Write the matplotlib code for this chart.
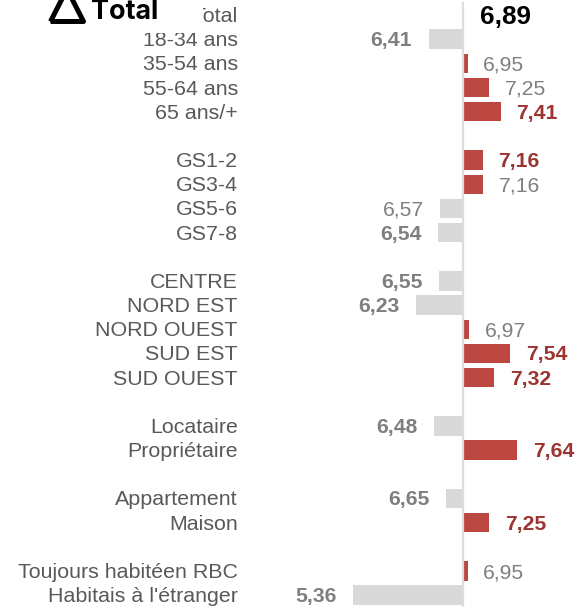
import matplotlib
matplotlib.use("Agg")
import matplotlib.pyplot as plt
from matplotlib.patches import Polygon, Rectangle

plt.rcParams['font.family'] = ['Liberation Sans', 'DejaVu Sans']

# une ligne vide = None
categories = ["Total", "18-34 ans", "35-54 ans", "55-64 ans", "65 ans/+", None,
              "GS1-2", "GS3-4", "GS5-6", "GS7-8", None,
              "CENTRE", "NORD EST", "NORD OUEST", "SUD EST", "SUD OUEST", None,
              "Locataire", "Propriétaire", None,
              "Appartement", "Maison", None,
              "Toujours habitéen RBC", "Habitais à l'étranger"]
valeurs = [6.89, 6.41, 6.95, 7.25, 7.41, None,
           7.16, 7.16, 6.57, 6.54, None,
           6.55, 6.23, 6.97, 7.54, 7.32, None,
           6.48, 7.64, None,
           6.65, 7.25, None,
           6.95, 5.36]
# valeurs en gras
gras = ["18-34 ans", "65 ans/+", "GS1-2", "GS7-8", "CENTRE", "NORD EST",
        "SUD EST", "SUD OUEST", "Locataire", "Propriétaire", "Appartement",
        "Maison", "Habitais à l'étranger"]
reference = 6.89

W, H = 581, 607
fig = plt.figure(figsize=(W / 100, H / 100), dpi=100)
ax = fig.add_axes([0, 0, 1, 1])
px = 72.0  # pixels par unite
ax.set_xlim(reference - 463.4 / px, reference + (W - 463.4) / px)
ax.set_ylim(24.49, -0.62)
ax.axis('off')

for i, (cat, val) in enumerate(zip(categories, valeurs)):
    if cat is None:
        continue
    ax.annotate(cat, (237.8 / px + ax.get_xlim()[0], i), xytext=(0, -1.1),
                textcoords='offset points', ha='right', va='center',
                fontsize=15.4, color='#595959', zorder=2)
    if i == 0:
        ax.annotate("6,89", (val, i), xytext=(12.2, -1.1), textcoords='offset points',
                    ha='left', va='center', fontsize=18.8, fontweight='bold', color='black')
        continue
    dessus = val > reference
    ax.barh(i, val - reference, left=reference, height=0.8,
            color='#BC4640' if dessus else '#D9D9D9', zorder=1)
    bold = cat in gras
    col = '#9C3431' if (dessus and bold) else '#7F7F7F'
    ax.annotate(f"{val:.2f}".replace('.', ','), (val, i),
                xytext=(11.2 if dessus else -12, -1.1), textcoords='offset points',
                ha='left' if dessus else 'right', va='center', fontsize=15.2,
                fontweight='bold' if bold else 'normal', color=col)

# ligne de reference
ax.axvline(reference, ymin=0, ymax=1 - 3 / H, color='#DDDDDD', lw=1.6, zorder=3)

# logo par dessus (fond blanc qui coupe le texte)
tp = matplotlib.transforms.Affine2D().scale(1, -1).translate(0, H)
fig.add_artist(Rectangle((0, 0), 202.5, 33, transform=tp, fc='white', ec='none', zorder=5))
fig.add_artist(Polygon([(50.5, 21.5), (67, -11), (83.5, 21.5)], closed=True, transform=tp,
                       fill=False, ec='black', lw=3.6, joinstyle='round', zorder=6))
fig.text(91 / W, 1 - 19.2 / H, "Total", fontsize=19.4, fontweight='bold', family='Inter',
         color='black', va='baseline', ha='left', zorder=7)

fig.savefig("out.png", dpi=100)
